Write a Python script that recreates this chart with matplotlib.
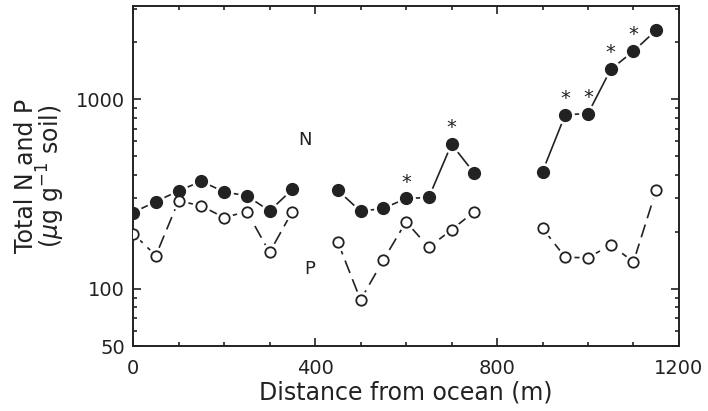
import numpy as np
import matplotlib.pyplot as plt
from matplotlib.ticker import FixedLocator, NullFormatter, LogLocator

# distance from ocean (m), three transect sections
x1 = [0, 50, 100, 150, 200, 250, 300, 350]
x2 = [450, 500, 550, 600, 650, 700, 750]
x3 = [900, 950, 1000, 1050, 1100, 1150]

n1 = [253, 289, 329, 370, 325, 310, 258, 335]
n2 = [331, 257, 266, 300, 304, 580, 408]
n3 = [416, 830, 841, 1438, 1796, 2316]

p1 = [196, 150, 292, 274, 238, 256, 156, 256]
p2 = [177, 87.5, 142, 226, 166, 205, 256]
p3 = [209, 147, 146, 171, 139, 333]

# points marked as significant
star_x = [600, 700, 950, 1000, 1050, 1100]
star_y = [300, 580, 830, 841, 1438, 1796]

ink = '#222222'
plt.rcParams['font.family'] = 'DejaVu Sans'

fig = plt.figure(figsize=(7.08, 4.11), dpi=100)
ax = fig.add_axes([0.188, 0.158, 0.771, 0.827])

for xs, ns, ps in [(x1, n1, p1), (x2, n2, p2), (x3, n3, p3)]:
    ax.plot(xs, ns, '-', color=ink, lw=1.2, zorder=1)
    ax.plot(xs, ps, color=ink, lw=1.2, dashes=(8, 4), zorder=1)
    # white halo so lines stop short of the markers
    ax.plot(xs, ns, 'o', ms=12.5, color='white', mec='white', zorder=2)
    ax.plot(xs, ps, 'o', ms=12, color='white', mec='white', zorder=2)
    ax.plot(xs, ns, 'o', ms=8.5, color=ink, mec=ink, zorder=3)
    ax.plot(xs, ps, 'o', ms=7.5, mfc='white', mec=ink, mew=1.3, zorder=3)

for sx, sy in zip(star_x, star_y):
    ax.annotate('*', (sx, sy), xytext=(0, 5), textcoords='offset points',
                ha='center', va='bottom', fontsize=14, color=ink)

ax.text(378, 610, 'N', fontsize=13, color=ink, ha='center', va='center')
ax.text(389, 127, 'P', fontsize=13, color=ink, ha='center', va='center')

ax.set_yscale('log')
ax.set_xlim(0, 1200)
ax.set_ylim(50, 3100)
ax.set_xticks([0, 400, 800, 1200])
ax.xaxis.set_minor_locator(FixedLocator(np.arange(0, 1201, 100)))
ax.yaxis.set_major_locator(FixedLocator([50, 100, 1000]))
ax.set_yticklabels(['50', '100', '1000'])
ax.yaxis.set_minor_locator(LogLocator(base=10, subs=np.arange(2, 10)))
ax.yaxis.set_minor_formatter(NullFormatter())

ax.tick_params(which='both', direction='in', top=True, right=True,
               colors=ink, labelsize=14, width=1.2)
ax.tick_params(which='major', length=6)
ax.tick_params(axis='x', which='major', pad=9)
ax.tick_params(axis='y', which='major', pad=6)
ax.tick_params(which='minor', length=3)
for s in ax.spines.values():
    s.set_linewidth(1.4)
    s.set_color(ink)

ax.set_xlabel('Distance from ocean (m)', fontsize=17, color=ink, labelpad=2)
ax.set_ylabel('Total N and P\n($\\mu$g g$^{-1}$ soil)', fontsize=17,
              color=ink, linespacing=0.9, labelpad=6)

fig.savefig('out.png', dpi=100)
